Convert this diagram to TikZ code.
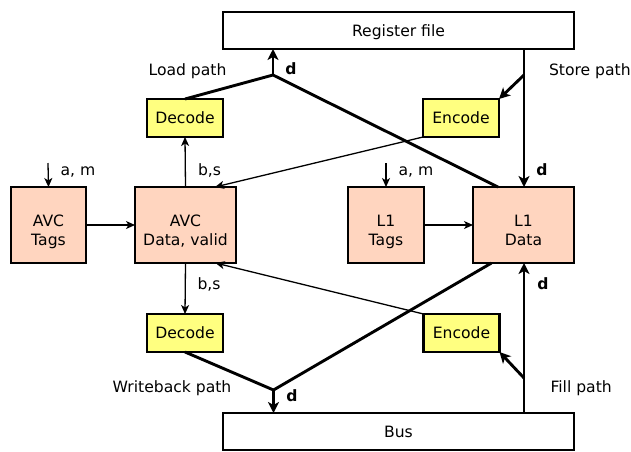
\documentclass[tikz,border=0pt]{standalone}
\usepackage{fontspec}
\setmainfont{DejaVu Sans}
\usetikzlibrary{arrows.meta,calc}
\definecolor{peach}{RGB}{255,213,191}
\definecolor{yel}{RGB}{255,255,128}
\begin{document}
\begin{tikzpicture}[x=1pt,y=-1pt,
  every node/.style={font=\fontsize{15.6}{19}\selectfont, inner sep=0pt, outer sep=0pt},
  box/.style={draw, line width=2.9pt, text height=11.4pt, text depth=0pt},
  bigbox/.style={box, fill=white, minimum width=351pt, minimum height=37pt},
  codebox/.style={box, fill=yel, minimum width=76pt, minimum height=38pt},
  membox/.style={box, fill=peach, align=center, minimum height=76pt, text height=40.6pt, text depth=0pt},
  thickc/.style={line width=2.9pt, line join=miter},
  thinc/.style={line width=1.3pt},
  thickarr/.style={thickc, -{Stealth[length=11pt,width=11pt,inset=3pt]}},
  thinarr/.style={thinc, -{Stealth[length=9pt,width=8pt,inset=2.5pt]}},
  lbl/.style={anchor=base},
  lblw/.style={anchor=base west},
  bold/.style={font=\fontsize{15.6}{19}\selectfont\bfseries}
]
\useasboundingbox (0,0) rectangle (631,451);

% boxes
\node[bigbox] (reg) at (398.5,30.5) {Register file};
\node[bigbox] (bus) at (398.5,431.5) {Bus};
\node[codebox] (dec1) at (185,118) {Decode};
\node[codebox] (enc1) at (461,118) {Encode};
\node[codebox] (dec2) at (185,333) {Decode};
\node[codebox] (enc2) at (461.5,333) {Encode};
\node[membox, minimum width=75pt] (avct) at (48.5,225) {AVC\\Tags};
\node[membox, minimum width=101pt] (avcd) at (185.5,225) {AVC\\Data, valid};
\node[membox, minimum width=76pt] (l1t) at (386,225) {L1\\Tags};
\node[membox, minimum width=101pt] (l1d) at (523.5,225) {L1\\Data};

% junction coordinates
\coordinate (J1) at (273,75);
\coordinate (S1) at (524,75);
\coordinate (J2) at (273.5,390);
\coordinate (F1) at (524,378);
\coordinate (in1) at (48,163);
\coordinate (in2) at (386,163);

% load path
\draw[thickc] (dec1.north) -- (J1) -- ([xshift=25pt]l1d.north west);
\draw[thickarr] (J1) -- (J1 |- reg.south);
% store path
\draw[thickarr] (S1 |- reg.south) -- (S1 |- l1d.north);
\draw[thickarr] (S1) -- (enc1.north east);
% writeback path
\draw[thickc] (dec2.south) -- (J2) -- ([xshift=-32pt]l1d.south);
\draw[thickarr] (J2) -- (J2 |- bus.north);
% fill path
\draw[thickarr] (F1 |- bus.north) -- (F1 |- l1d.south);
\draw[thickarr] (F1) -- (enc2.south east);

% thin connectors
\draw[thinarr] (avcd.north) -- (dec1.south);
\draw[thinarr] (avcd.south) -- (dec2.north);
\draw[thinarr] (enc1.south west) -- ([xshift=29.5pt]avcd.north);
\draw[thinarr] (enc2.north west) -- ([xshift=30pt]avcd.south);
\draw[thinarr] (avct.east) -- (avcd.west);
\draw[thinarr] (l1t.east) -- (l1d.west);
\draw[thinarr] (in1) -- (avct.north);
\draw[thinarr] (in2) -- (l1t.north);

% labels
\node[lbl] (tload) at (187.5,75) {Load path};
\node[lblw] (tstore) at (549,75) {Store path};
\node[lbl] (twb) at (172,392) {Writeback path};
\node[lblw] (tfill) at (550.5,392) {Fill path};
\node[lbl, bold] (d1) at (291,74) {d};
\node[lbl, bold] (d2) at (542,175) {d};
\node[lbl, bold] (d3) at (292,401.5) {d};
\node[lbl, bold] (d4) at (543,289) {d};
\node[lbl] (bs1) at (209.5,175) {b,s};
\node[lbl] (bs2) at (209,289) {b,s};
\node[lbl] (am1) at (78,175) {a, m};
\node[lbl] (am2) at (416,175) {a, m};
\end{tikzpicture}
\end{document}
